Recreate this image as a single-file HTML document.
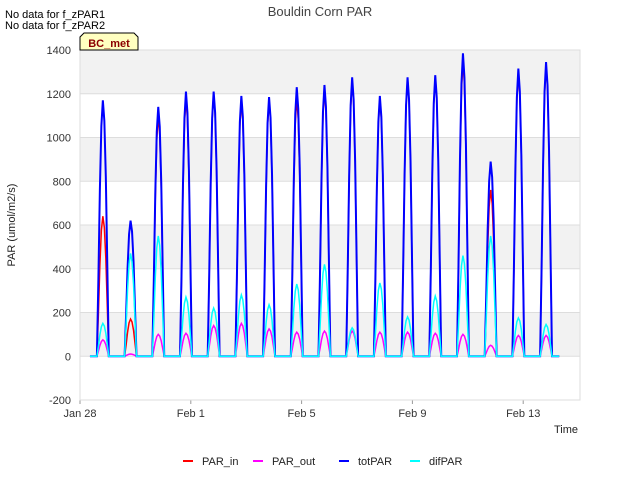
<!DOCTYPE html>
<html><head><meta charset="utf-8"><style>
body{margin:0;background:#fff;font-family:"Liberation Sans",sans-serif}
text{font-family:"Liberation Sans",sans-serif}
</style></head><body>
<svg id="chart" width="640" height="480" xmlns="http://www.w3.org/2000/svg">
<rect x="0" y="0" width="640" height="480" fill="#fff"/>
<g id="bands"></g><g id="grid"></g>
<g id="series"></g>
<g id="axes"></g>
<text x="320" y="16" text-anchor="middle" font-size="13" fill="#444">Bouldin Corn PAR</text>
<text x="5" y="18" font-size="11" fill="#000">No data for f_zPAR1</text>
<text x="5" y="29" font-size="11" fill="#000">No data for f_zPAR2</text>
<g>
<path d="M80,50 L80,37 L84,33 L134,33 L138,37 L138,50 Z" fill="#ffffc0" stroke="#000" stroke-width="1"/>
<text x="109" y="47" text-anchor="middle" font-size="11" font-weight="bold" fill="#8b0000">BC_met</text></g>
<text x="15" y="225" transform="rotate(-90 15 225)" text-anchor="middle" font-size="11" fill="#222">PAR (umol/m2/s)</text>
<text x="578" y="433" text-anchor="end" font-size="11" fill="#222">Time</text>
<g id="legend"></g>
</svg>
<script>
const yTicks=[-200,0,200,400,600,800,1000,1200,1400];
const xTickDays=[0,4,8,12,16];
const xTickLabels=["Jan 28","Feb 1","Feb 5","Feb 9","Feb 13"];
const dayIndex=[0,1,2,3,4,5,6,7,8,9,10,11,12,13,14,15,16];
const totPeak=[1170,620,1140,1210,1210,1190,1185,1230,1240,1275,1190,1275,1285,1385,890,1315,1345];
const inPeak=[640,170,1100,1180,1200,1170,1170,1180,1220,1260,1180,1270,1280,1350,760,1300,1330];
const outPeak=[75,10,100,105,140,150,125,110,115,115,110,110,105,100,50,95,95];
const difPeak=[150,470,550,270,220,280,235,330,420,130,335,180,275,460,550,175,145];
const profile=[0,0.3,0.65,0.9,1,0.92,0.7,0.35,0];
const ns="http://www.w3.org/2000/svg";
const X0=80,PXD=27.7,Y0=356.25,PXU=0.21875;
const xs=d=>X0+d*PXD, ys=v=>Y0-v*PXU;
function mk(t,a,p){const e=document.createElementNS(ns,t);for(const k in a)e.setAttribute(k,a[k]);p.appendChild(e);return e;}
const bands=document.getElementById('bands'),grid=document.getElementById('grid'),axes=document.getElementById('axes');
mk('rect',{x:80,y:50,width:500,height:350,fill:'#fff'},bands);
for(let i=0;i<yTicks.length-1;i++){if(i%2===1){const r=mk('rect',{x:80,y:ys(yTicks[i+1]),width:500,height:ys(yTicks[i])-ys(yTicks[i+1]),fill:'#f2f2f2'},bands);

}}
yTicks.forEach(v=>{const l=mk('line',{x1:80,x2:580,y1:ys(v),y2:ys(v),stroke:'#ddd'},grid);


const t=mk('text',{x:71,y:ys(v)+4,'text-anchor':'end','font-size':11,fill:'#333'},axes);t.textContent=v;

});
xTickDays.forEach((d,i)=>{const t=mk('text',{x:xs(d),y:417,'text-anchor':'middle','font-size':11,fill:'#333'},axes);t.textContent=xTickLabels[i];


mk('line',{x1:xs(d),x2:xs(d),y1:400,y2:404,stroke:'#999'},axes);});
mk('rect',{x:80,y:50,width:500,height:350,fill:'none',stroke:'#ddd'},axes);
const series=document.getElementById('series');
function draw(peaks,color,name,w){let pts=[[xs(0.36),ys(0)]];
dayIndex.forEach((d,i)=>{const start=d+0.61,end=d+1.04;
pts.push([xs(start),ys(0)]);
profile.forEach((p,j)=>pts.push([xs(start+(end-start)*j/(profile.length-1)),ys(p*peaks[i])]));});
pts.push([xs(17.3),ys(0)]);
const pl=mk('polyline',{points:pts.map(p=>p.join(',')).join(' '),fill:'none',stroke:color,'stroke-width':w},series);

}
draw(inPeak,'#ff0000','par-in',1.5);
draw(outPeak,'#ff00ff','par-out',1.5);
draw(totPeak,'#0000ff','tot-par',2);
draw(difPeak,'#00ffff','dif-par',1.5);
const leg=document.getElementById('legend');
[["PAR_in","#ff0000",183],["PAR_out","#ff00ff",253],["totPAR","#0000ff",339],["difPAR","#00ffff",410]].forEach(([n,c,x])=>{
const g=mk('g',{},leg);


mk('line',{x1:x,x2:x+10,y1:461,y2:461,stroke:c,'stroke-width':2},g);
const t=mk('text',{x:x+19,y:465,'font-size':11,fill:'#222'},g);t.textContent=n;});
</script>
</body></html>
